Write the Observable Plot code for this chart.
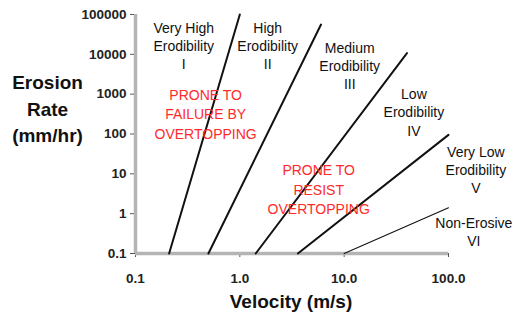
<!DOCTYPE html>
<html>
<head>
<meta charset="utf-8">
<script src="https://cdn.jsdelivr.net/npm/d3@7"></script>
<script src="https://cdn.jsdelivr.net/npm/@observablehq/plot@0.6"></script>
<style>
  html, body { margin: 0; padding: 0; background: #fff; }
  #chart svg { display: block; }
</style>
</head>
<body>
<div id="chart"></div>
<script>
// Threshold lines (velocity m/s, erosion rate mm/hr) for each erodibility class
const classes = ["I", "II", "III", "IV", "V"];
const startVelocity = [0.21, 0.5, 1.42, 3.6, 10];
const startRate = [0.1, 0.1, 0.1, 0.1, 0.1];
const endVelocity = [1.0, 6.0, 40, 100, 100];
const endRate = [100000, 56000, 10700, 95, 1.4];
const lineWidths = [2, 2, 2, 2, 1.1];

// Class labels and their anchor positions in data units
const classLabels = [
  "Very High\nErodibility\nI",
  "High\nErodibility\nII",
  "Medium\nErodibility\nIII",
  "Low\nErodibility\nIV",
  "Very Low\nErodibility\nV",
  "Non-Erosive\nVI"
];
const classLabelVelocity = [0.29, 1.85, 11.3, 46.6, 183, 175];
const classLabelRate = [16700, 16700, 5250, 367, 13.2, 0.356];

const zoneLabels = ["PRONE TO\nFAILURE BY\nOVERTOPPING", "PRONE TO\nRESIST\nOVERTOPPING"];
const zoneLabelVelocity = [0.47, 5.7];
const zoneLabelRate = [336, 4.3];

const xTicks = [0.1, 1, 10, 100];
const yTicks = [0.1, 1, 10, 100, 1000, 10000, 100000];

const segments = classes.map((c, i) => [
  {cls: c, v: startVelocity[i], e: startRate[i], w: lineWidths[i]},
  {cls: c, v: endVelocity[i], e: endRate[i], w: lineWidths[i]}
]).flat();
const classLabelData = classLabels.map((t, i) => ({t, v: classLabelVelocity[i], e: classLabelRate[i]}));
const zoneLabelData = zoneLabels.map((t, i) => ({t, v: zoneLabelVelocity[i], e: zoneLabelRate[i]}));

const font = "Liberation Sans, Arial, Helvetica, sans-serif";

const chart = Plot.plot({
  width: 515,
  height: 321,
  marginLeft: 135,
  marginRight: 67,
  marginTop: 14,
  marginBottom: 68,
  style: {fontFamily: font, background: "#fff"},
  x: {type: "log", domain: [0.1, 100]},
  y: {type: "log", domain: [0.1, 100000]},
  marks: [
    Plot.axisX({ticks: xTicks, tickFormat: d => d3.format(".1f")(d), tickSize: 4, tickPadding: 16,
      fontSize: 13.5, fontWeight: "bold", fill: "#222", stroke: "#555", label: null}),
    Plot.axisY({ticks: yTicks, tickFormat: d => String(d), tickSize: 5, tickPadding: 4,
      fontSize: 13.5, fontWeight: "bold", fill: "#222", stroke: "#555", label: null}),
    Plot.ruleX([0.1], {y1: 0.1, y2: 100000, stroke: "#b4b4b4", strokeWidth: 3.5}),
    Plot.ruleY([0.1], {x1: 0.1, x2: 100, stroke: "#b4b4b4", strokeWidth: 3.5}),
    Plot.line(segments, {x: "v", y: "e", z: "cls", stroke: "#111", strokeWidth: d => d.w}),
    Plot.text(classLabelData, {x: "v", y: "e", text: "t", fontSize: 14, lineHeight: 1.3, fill: "#111"}),
    Plot.text(zoneLabelData, {x: "v", y: "e", text: "t", fontSize: 14, lineHeight: 1.38, fill: "#ff2a2a"}),
    Plot.text(["Erosion\nRate\n(mm/hr)"], {frameAnchor: "left", dx: -88, dy: -27, fontSize: 19,
      fontWeight: "bold", lineHeight: 1.4, fill: "#111", textAnchor: "middle"}),
    Plot.text(["Velocity (m/s)"], {frameAnchor: "bottom", dx: -1, dy: 54, fontSize: 19,
      fontWeight: "bold", fill: "#111"})
  ]
});
document.getElementById("chart").appendChild(chart);
</script>
</body>
</html>
